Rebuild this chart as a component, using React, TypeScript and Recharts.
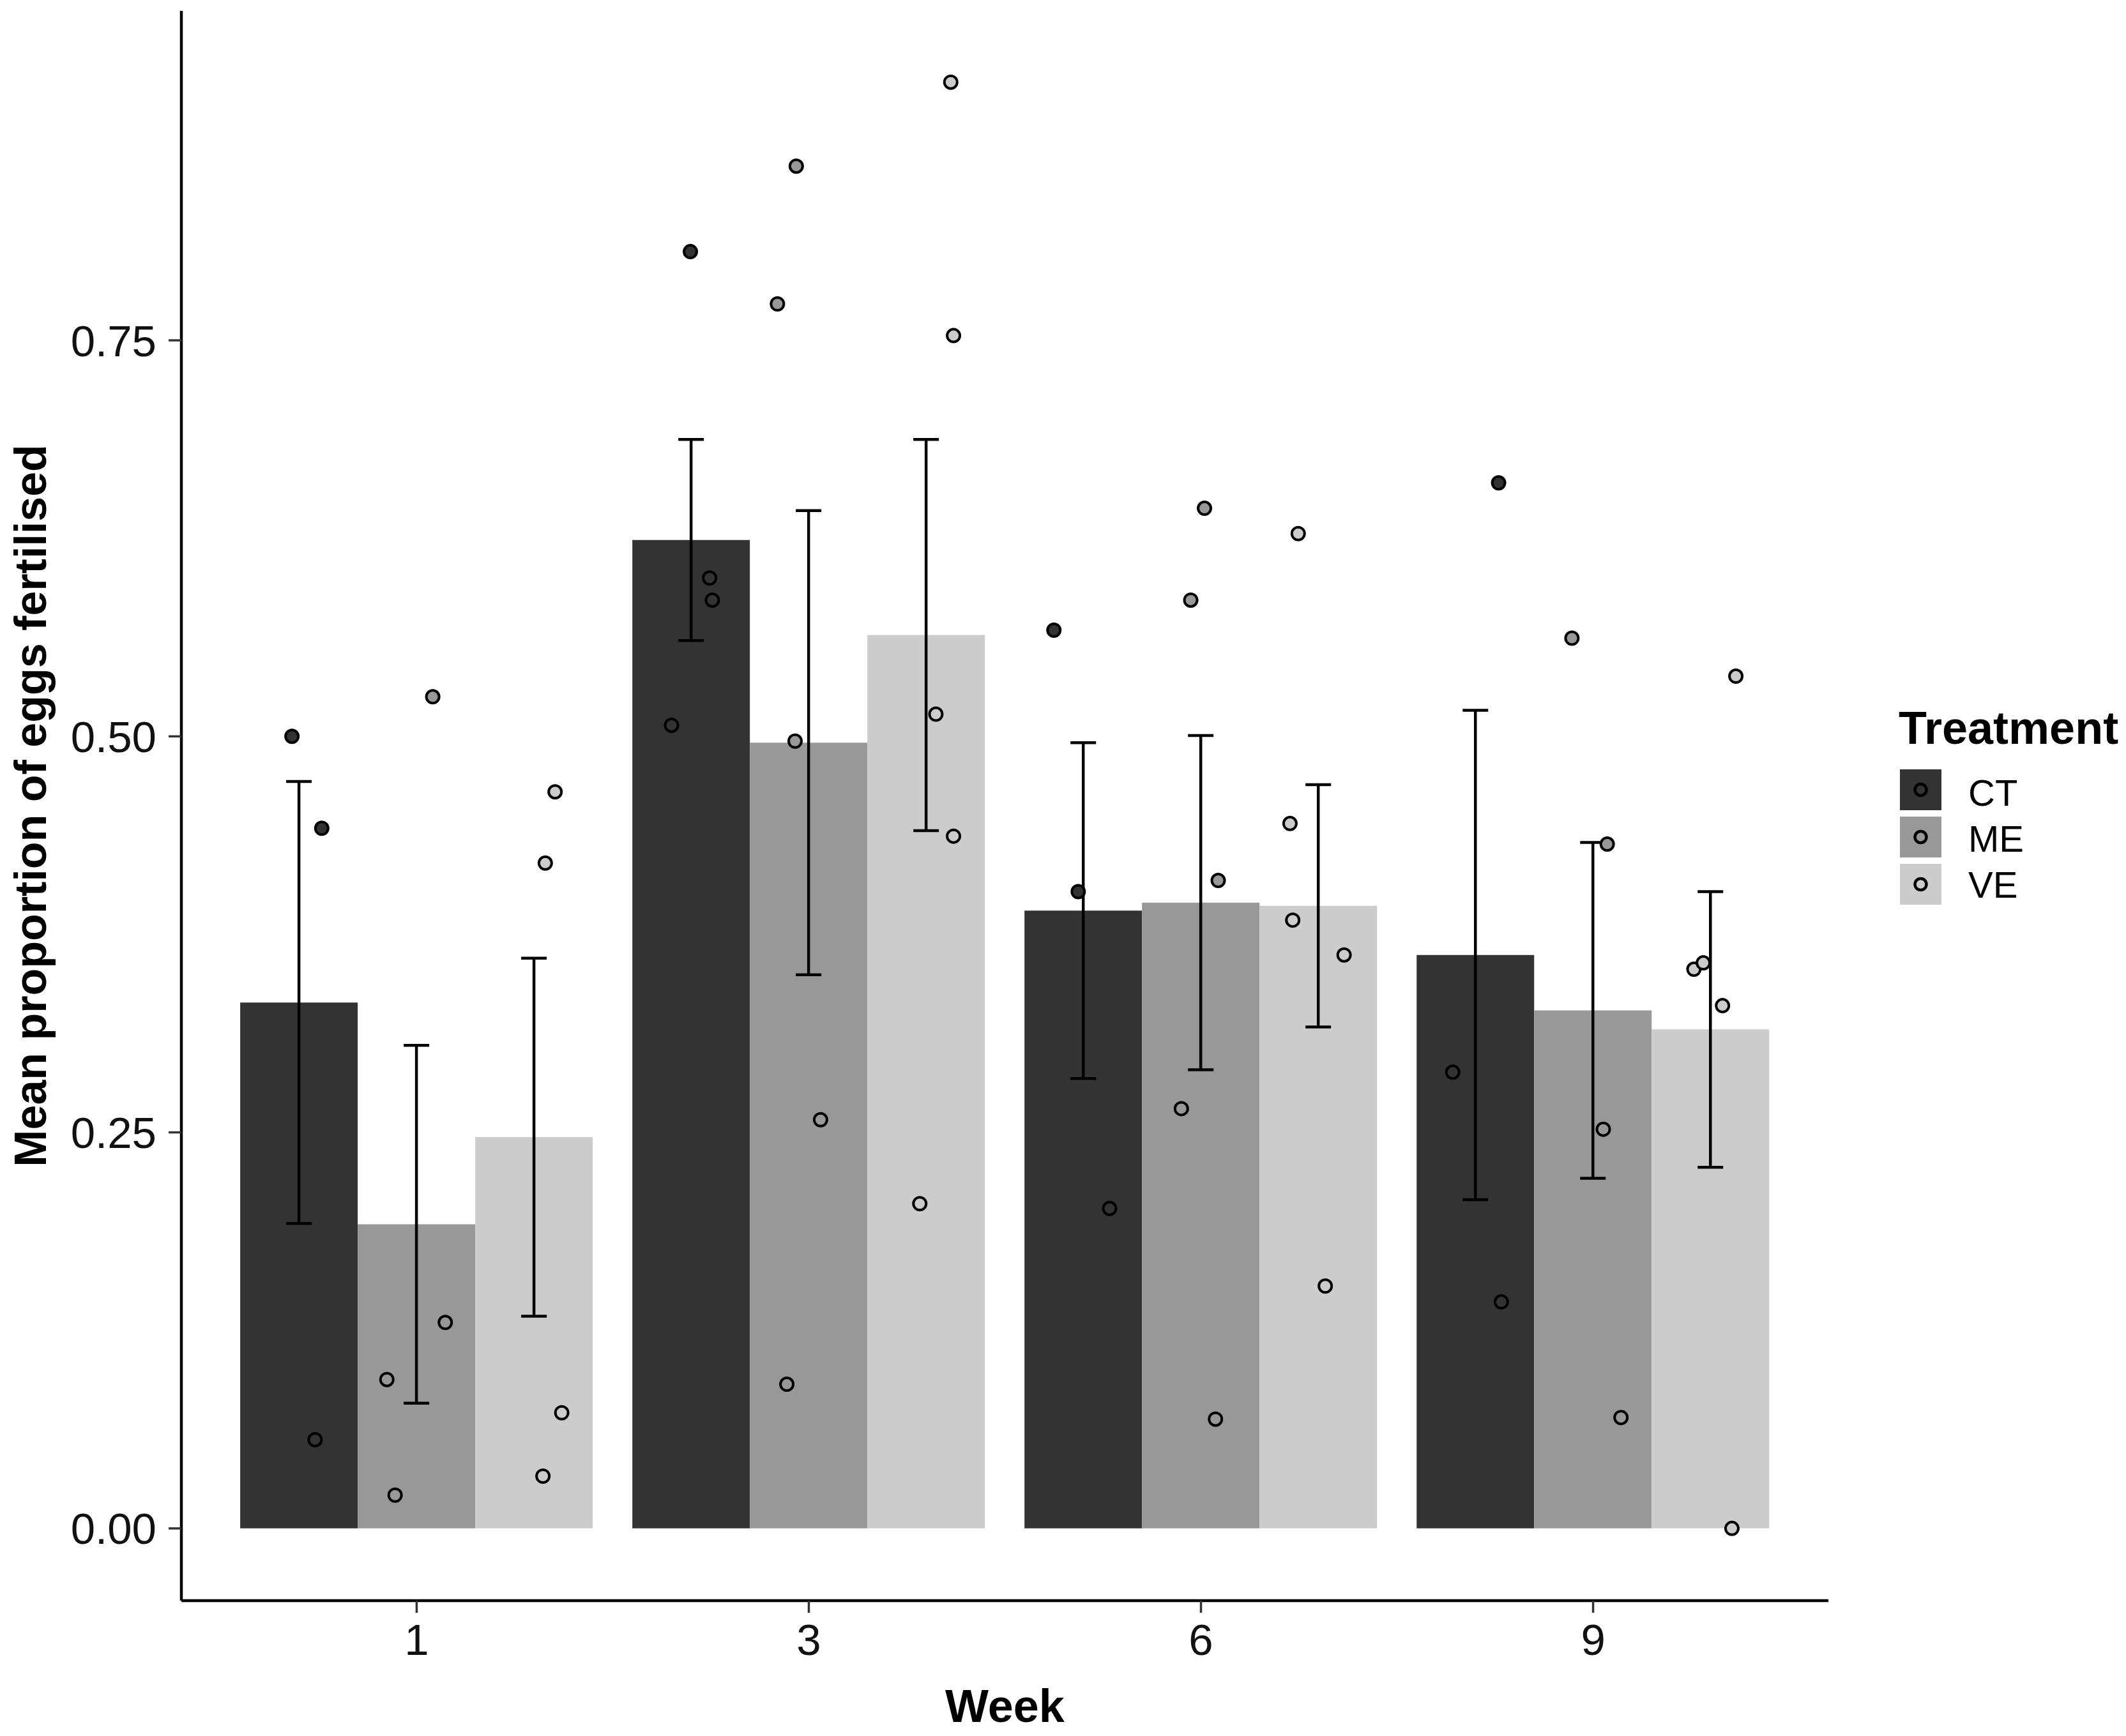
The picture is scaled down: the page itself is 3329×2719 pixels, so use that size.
import { ComposedChart, Bar, Scatter, XAxis, YAxis, ErrorBar, Label } from 'recharts'

const weeks = ['1', '3', '6', '9']
const treatments = ['CT', 'ME', 'VE']
const fills = ['#333333', '#989898', '#cccccc']

// mean proportion per week
const ctMean = [0.332, 0.624, 0.39, 0.362]
const meMean = [0.192, 0.496, 0.395, 0.327]
const veMean = [0.247, 0.564, 0.393, 0.315]

// standard error (half length of the error bar)
const ctSe = [0.1395, 0.0635, 0.106, 0.1545]
const meSe = [0.113, 0.1465, 0.1055, 0.106]
const veSe = [0.113, 0.1235, 0.0765, 0.087]

// raw replicate values, x is the jittered position on the week axis (1..4)
const ctPoints = [
  [0.682, 0.5], [0.758, 0.442], [0.741, 0.056],
  [1.698, 0.806], [1.747, 0.6], [1.754, 0.586], [1.65, 0.507],
  [2.625, 0.567], [2.687, 0.402], [2.767, 0.202],
  [3.759, 0.66], [3.642, 0.288], [3.766, 0.143],
]
const mePoints = [
  [1.041, 0.525], [1.073, 0.13], [0.924, 0.094], [0.945, 0.021],
  [1.968, 0.86], [1.92, 0.773], [1.965, 0.497], [2.03, 0.258], [1.944, 0.091],
  [3.009, 0.644], [2.974, 0.586], [3.044, 0.409], [2.95, 0.265], [3.037, 0.069],
  [3.946, 0.562], [4.036, 0.432], [4.026, 0.252], [4.071, 0.07],
]
const vePoints = [
  [1.353, 0.465], [1.328, 0.42], [1.37, 0.073], [1.322, 0.033],
  [2.362, 0.913], [2.369, 0.753], [2.324, 0.514], [2.369, 0.437], [2.283, 0.205],
  [3.248, 0.628], [3.227, 0.445], [3.234, 0.384], [3.365, 0.362], [3.317, 0.153],
  [4.364, 0.538], [4.257, 0.353], [4.281, 0.357], [4.33, 0.33], [4.354, 0.0],
]

const yTicks = [0, 0.25, 0.5, 0.75]

const FONT = '"Liberation Sans", Arial, Helvetica, sans-serif'
const W = 3329
const H = 2719
const PLOT_LEFT = 284
const PLOT_TOP = 17
const PLOT_RIGHT = 2863
const PLOT_BOTTOM = 2507
const Y_AXIS_W = 150
const X_AXIS_H = 100
const UNIT = (PLOT_RIGHT - PLOT_LEFT) / 4.2

const chartData = weeks.map((week, i) => ({
  week,
  CT: ctMean[i],
  CTerr: ctSe[i],
  ME: meMean[i],
  MEerr: meSe[i],
  VE: veMean[i],
  VEerr: veSe[i],
}))

const toXY = (pts: number[][]) => pts.map(([x, y]) => ({ x, y }))

function dot(fill: string) {
  return (props: any) => (
    <circle cx={props.cx} cy={props.cy} r={10} fill={fill} stroke="#000" strokeWidth={4} />
  )
}

function LegendBox() {
  return (
    <svg width={379} height={360} style={{ position: 'absolute', left: 2950, top: 1080 }}>
      <text x={23} y={85} fontFamily={FONT} fontWeight="bold" fontSize={72} fill="#000">
        Treatment
      </text>
      {treatments.map((t, i) => (
        <g key={t}>
          <rect x={25} y={125 + i * 74} width={65} height={64} fill={fills[i]} />
          <circle cx={57.5} cy={157 + i * 74} r={9} fill={fills[i]} stroke="#000" strokeWidth={4.5} />
          <text x={132} y={182 + i * 72} fontFamily={FONT} fontSize={58} fill="#000">
            {t}
          </text>
        </g>
      ))}
    </svg>
  )
}

export default function App() {
  const tickStyle = { fill: '#111', fontSize: 69, fontFamily: FONT }
  return (
    <div style={{ position: 'absolute', left: 0, top: 0, width: W, height: H, background: '#fff' }}>
      <ComposedChart
        width={W}
        height={H}
        data={chartData}
        barCategoryGap="5%"
        barGap={0}
        margin={{
          top: PLOT_TOP,
          left: PLOT_LEFT - Y_AXIS_W,
          right: W - PLOT_RIGHT,
          bottom: H - PLOT_BOTTOM - X_AXIS_H,
        }}
      >
        <XAxis
          dataKey="week"
          height={X_AXIS_H}
          interval={0}
          padding={{ left: UNIT * 0.1, right: UNIT * 0.1 }}
          tick={tickStyle}
          tickSize={19}
          tickMargin={17}
          axisLine={{ stroke: '#000', strokeWidth: 4.5 }}
          tickLine={{ stroke: '#333', strokeWidth: 3.5 }}
        >
          <Label
            content={() => (
              <text
                x={(PLOT_LEFT + PLOT_RIGHT) / 2}
                y={2697}
                textAnchor="middle"
                fontFamily={FONT}
                fontWeight="bold"
                fontSize={72}
                fill="#000"
              >
                Week
              </text>
            )}
          />
        </XAxis>
        <XAxis xAxisId="num" type="number" dataKey="x" domain={[0.4, 4.6]} allowDataOverflow hide />
        <YAxis
          type="number"
          width={Y_AXIS_W}
          domain={[-0.0456, 0.958]}
          allowDataOverflow
          ticks={yTicks}
          tickFormatter={(v: number) => v.toFixed(2)}
          tick={tickStyle}
          tickSize={20}
          tickMargin={19}
          axisLine={{ stroke: '#000', strokeWidth: 4.5 }}
          tickLine={{ stroke: '#333', strokeWidth: 3.5 }}
        >
          <Label
            content={() => (
              <text
                x={72}
                y={(PLOT_TOP + PLOT_BOTTOM) / 2}
                transform={`rotate(-90 72 ${(PLOT_TOP + PLOT_BOTTOM) / 2})`}
                textAnchor="middle"
                fontFamily={FONT}
                fontWeight="bold"
                fontSize={70}
                fill="#000"
              >
                Mean proportion of eggs fertilised
              </text>
            )}
          />
        </YAxis>
        <Bar dataKey="CT" fill={fills[0]} isAnimationActive={false}>
          <ErrorBar dataKey="CTerr" width={20} strokeWidth={4.5} stroke="#000" isAnimationActive={false} />
        </Bar>
        <Bar dataKey="ME" fill={fills[1]} isAnimationActive={false}>
          <ErrorBar dataKey="MEerr" width={20} strokeWidth={4.5} stroke="#000" isAnimationActive={false} />
        </Bar>
        <Bar dataKey="VE" fill={fills[2]} isAnimationActive={false}>
          <ErrorBar dataKey="VEerr" width={20} strokeWidth={4.5} stroke="#000" isAnimationActive={false} />
        </Bar>
        <Scatter xAxisId="num" data={toXY(ctPoints)} dataKey="y" shape={dot(fills[0])} isAnimationActive={false} />
        <Scatter xAxisId="num" data={toXY(mePoints)} dataKey="y" shape={dot(fills[1])} isAnimationActive={false} />
        <Scatter xAxisId="num" data={toXY(vePoints)} dataKey="y" shape={dot(fills[2])} isAnimationActive={false} />
      </ComposedChart>
      <LegendBox />
    </div>
  )
}
